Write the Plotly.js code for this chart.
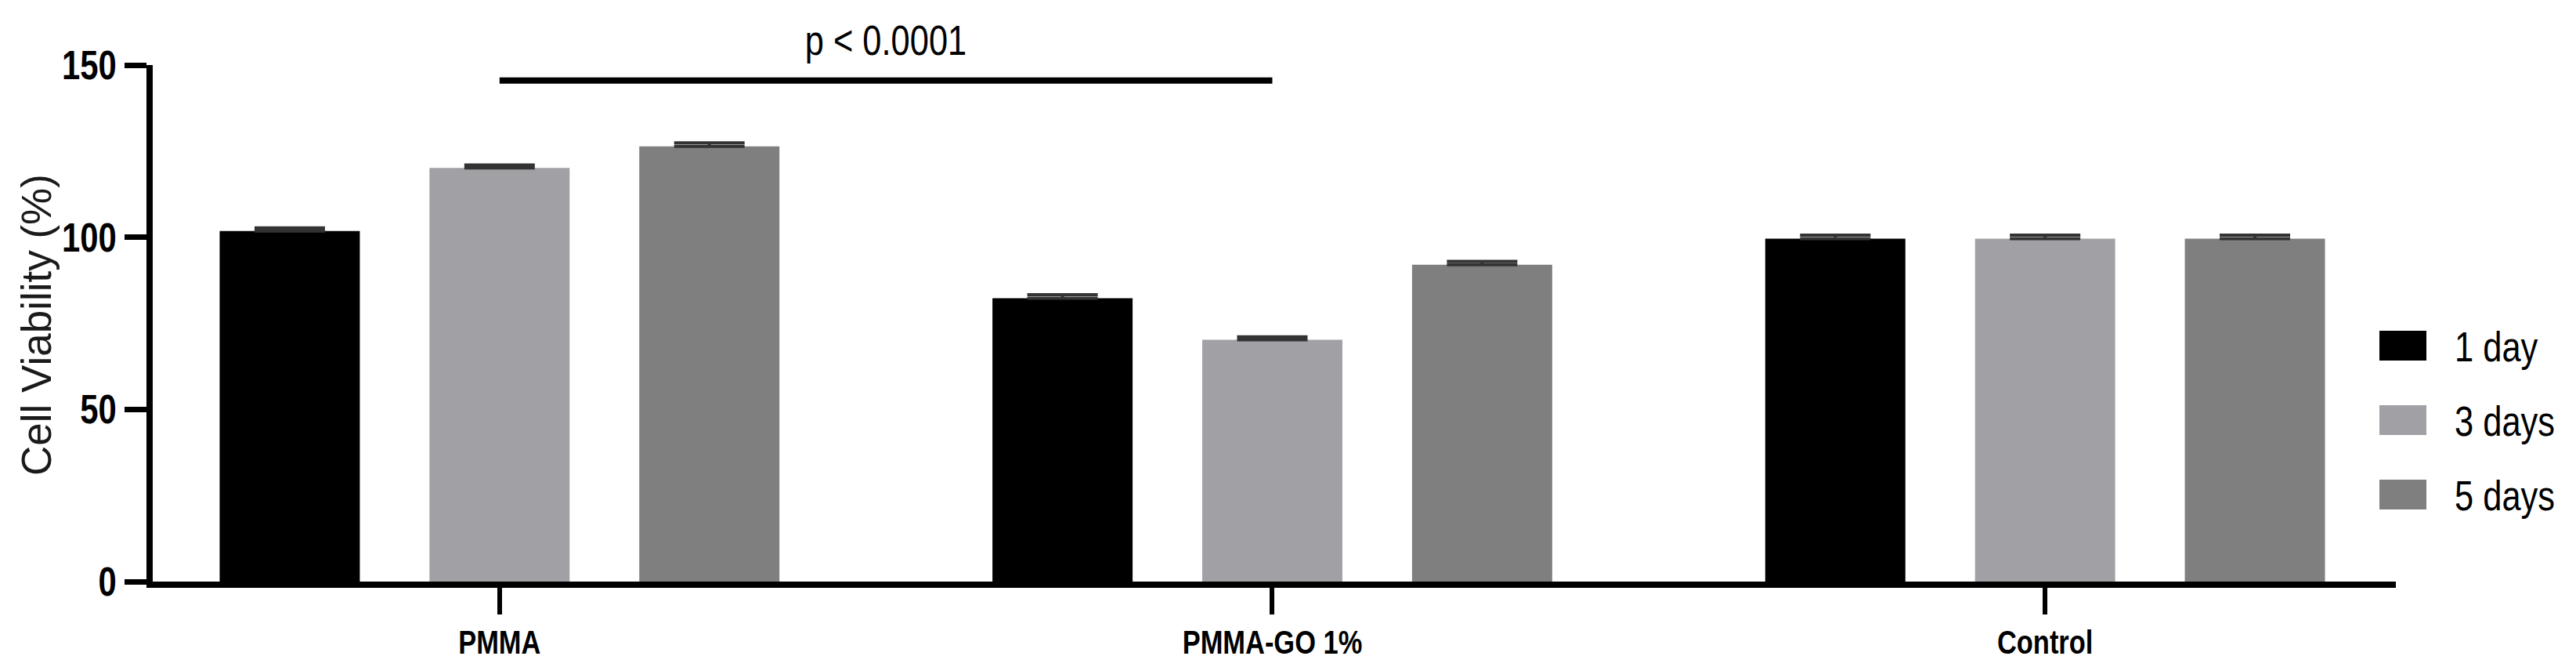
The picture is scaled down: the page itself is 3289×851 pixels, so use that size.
<!DOCTYPE html>
<html>
<head>
<meta charset="utf-8">
<script src="https://cdn.plot.ly/plotly-3.0.1.min.js"></script>
<style>html,body{margin:0;padding:0;background:#fff;}#chart{width:3289px;height:851px;}</style>
</head>
<body>
<div id="chart"></div>
<script>
// ---- data ----
const categories = ["PMMA", "PMMA-GO 1%", "Control"];
const seriesNames = ["1 day", "3 days", "5 days"];
const day1 = [101.8, 82.3, 99.6];
const day3 = [120.1, 70.2, 99.6];
const day5 = [126.4, 92.0, 99.6];
const err1 = [0.9, 1.0, 1.0];
const err3 = [0.9, 0.9, 1.0];
const err5 = [1.0, 1.0, 1.0];
const yTicks = [0, 50, 100, 150];
const yTitle = "Cell Viability (%)";
const sigLabel = "p < 0.0001";
const sigValue = 145.5;
const colors = ["#000000", "#a1a0a5", "#7f7f7f"];

const values = [day1, day3, day5];
const errs = [err1, err3, err5];

// ---- layout constants ----
const W = 3289, H = 851;
const M = {l: 195, r: 230, t: 83, b: 109};
const PW = W - M.l - M.r, PH = H - M.t - M.b;
const px2x = px => (px - M.l) / PW;
const px2y = py => (H - M.b - py) / PH;
const SQUEEZE = 0.82;

const NARROW = "Liberation Sans, Arial, sans-serif";
const REG = "Liberation Sans, Arial, sans-serif";

const traces = values.map((v, i) => ({
  type: "bar",
  name: seriesNames[i],
  x: categories,
  y: v,
  marker: {color: colors[i], line: {width: 0}},
  error_y: {
    type: "data", symmetric: false, array: errs[i], arrayminus: v.map(() => 0),
    color: "#333333", thickness: 4, width: 45, visible: true
  },
  showlegend: false,
  hoverinfo: "skip"
}));

const shapes = [{
  type: "line", xref: "x", yref: "y",
  x0: 0, x1: 1, y0: sigValue, y1: sigValue,
  line: {color: "#000", width: 8}
}];

const annotations = [{
  xref: "x", yref: "y", x: 0.5, y: 150, yanchor: "bottom", xanchor: "center",
  text: sigLabel, showarrow: false,
  font: {family: NARROW, size: 53, color: "#000"}
}];

// legend (manual, bigger swatches)
const legTop = [422, 517, 612];
seriesNames.forEach((n, i) => {
  shapes.push({
    type: "rect", xref: "paper", yref: "paper",
    x0: px2x(3038), x1: px2x(3098), y0: px2y(legTop[i] + 38), y1: px2y(legTop[i]),
    fillcolor: colors[i], line: {width: 0}
  });
  annotations.push({
    xref: "paper", yref: "paper", x: px2x(3132), y: px2y(legTop[i] + 20),
    xanchor: "left", yanchor: "middle", text: n, showarrow: false,
    font: {family: NARROW, size: 53, color: "#000"}
  });
});

// y-axis title (rotated)
annotations.push({
  xref: "paper", yref: "paper", x: px2x(46), y: px2y(415),
  xanchor: "center", yanchor: "middle", textangle: -90,
  text: yTitle, showarrow: false,
  font: {family: REG, size: 53, color: "#1a1a1a"}
});

const layout = {
  width: W, height: H,
  margin: M,
  paper_bgcolor: "#fff", plot_bgcolor: "#fff",
  barmode: "group",
  bargap: 0.1855,
  bargroupgap: 0.332,
  showlegend: false,
  xaxis: {
    type: "category",
    range: [-0.4488, 2.4539],
    showgrid: false, zeroline: false,
    showline: true, linecolor: "#000", linewidth: 8,
    ticks: "outside", ticklen: 34, tickwidth: 6, tickcolor: "#000",
    tickfont: {family: NARROW, size: 42, color: "#000", weight: "bold"},
    automargin: false
  },
  yaxis: {
    range: [0, 150],
    tickvals: yTicks,
    showgrid: false, zeroline: false,
    showline: true, linecolor: "#000", linewidth: 8,
    ticks: "outside", ticklen: 28, tickwidth: 7, tickcolor: "#000",
    tickfont: {family: NARROW, size: 51, color: "#000", weight: "bold"},
    automargin: false
  },
  shapes: shapes,
  annotations: annotations
};

// horizontally condense text (reference uses a narrow face)
function squeeze(el, mode) {
  const bb = el.getBBox();
  let p = bb.x + bb.width / 2;
  if (mode === "right") p = bb.x + bb.width;
  if (mode === "left") p = bb.x;
  const t = el.getAttribute("transform") || "";
  el.setAttribute("transform", t + " translate(" + p + ",0) scale(" + SQUEEZE + ",1) translate(" + (-p) + ",0)");
}

Plotly.newPlot("chart", traces, layout, {staticPlot: true, displayModeBar: false}).then(gd => {
  gd.querySelectorAll(".ytick text").forEach(el => squeeze(el, "right"));
  gd.querySelectorAll(".xtick text").forEach(el => squeeze(el, "center"));
  gd.querySelectorAll(".annotation").forEach(a => {
    const idx = +a.getAttribute("data-index");
    if (idx > 3) return; // rotated y title stays as is
    const txt = a.querySelector("text");
    if (txt) squeeze(txt, idx === 0 ? "center" : "left");
  });
});
</script>
</body>
</html>
